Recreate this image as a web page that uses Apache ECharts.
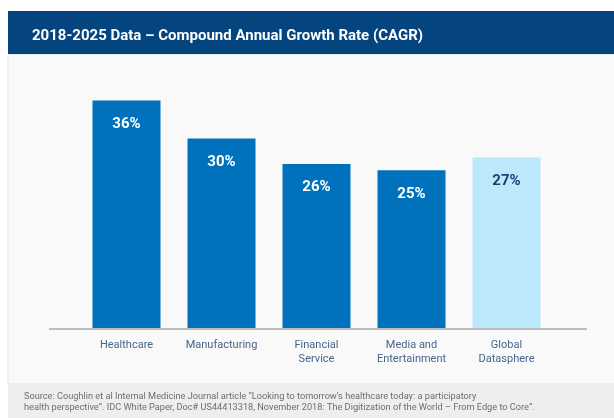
<!DOCTYPE html>
<html>
<head>
    <meta charset="UTF-8">
    <title>CAGR 2018-2025</title>
    <script src="https://cdn.jsdelivr.net/npm/echarts@6/dist/echarts.min.js"></script>
    <style>
        html, body { margin: 0; padding: 0; background: #ffffff; }
    </style>
</head>
<body>
    <div id="main" style="width: 614px; height: 418px;"></div>

    <script>
        // chart data
        var categories = ['Healthcare', 'Manufacturing', 'Financial\nService', 'Media and\nEntertainment', 'Global\nDatasphere'];
        var cagrValues = [36, 30, 26, 25, 27];
        var highlightIndex = 4; // Global Datasphere drawn in light blue

        var titleText = '2018-2025 Data \u2013 Compound Annual Growth Rate (CAGR)';
        var sourceText = 'Source: Coughlin et al Internal Medicine Journal article \u201cLooking to tomorrow\u2019s healthcare today: a participatory\n' +
            'health perspective\u201d. IDC White Paper, Doc# US44413318, November 2018: The Digitization of the World \u2013 From Edge to Core\u201d.';

        var myChart = echarts.init(document.getElementById('main'));

        var barData = cagrValues.map(function (v, i) {
            if (i === highlightIndex) {
                return {
                    value: v,
                    itemStyle: { color: '#bbe9fb' },
                    label: { color: '#1c3f74' }
                };
            }
            return v;
        });

        var option = {
            backgroundColor: '#ffffff',
            animation: false,
            graphic: [
                // chart panel
                {
                    type: 'rect', z: -10,
                    shape: { x: 8, y: 54, width: 620, height: 330 },
                    style: { fill: '#f9f9fa', stroke: '#e4e4e6', lineWidth: 1 }
                },
                // header band
                {
                    type: 'rect', z: -9,
                    shape: { x: 8, y: 11, width: 606, height: 43 },
                    style: { fill: '#04457f' }
                },
                // footer band
                {
                    type: 'rect', z: -9,
                    shape: { x: 8, y: 383, width: 606, height: 35 },
                    style: { fill: '#eeeeee' }
                },
                // baseline
                {
                    type: 'line', z: 5,
                    shape: { x1: 49, y1: 329, x2: 587, y2: 329 },
                    style: { stroke: '#bdbdbd', lineWidth: 2 }
                }
            ],
            title: [
                {
                    text: titleText,
                    left: 27,
                    top: 24,
                    textStyle: {
                        color: '#ffffff',
                        fontFamily: 'Roboto',
                        fontWeight: 'bold',
                        fontSize: 15
                    }
                },
                {
                    text: sourceText,
                    left: 24,
                    top: 391,
                    padding: 0,
                    textStyle: {
                        color: '#6e6e6e',
                        fontFamily: 'Roboto',
                        fontWeight: 'normal',
                        fontSize: 9.2,
                        lineHeight: 11
                    }
                }
            ],
            grid: {
                left: 79,
                width: 475,
                top: 75,
                bottom: 89,
                containLabel: false
            },
            xAxis: {
                type: 'category',
                data: categories,
                axisLine: { show: false },
                axisTick: { show: false },
                axisLabel: {
                    color: '#46668a',
                    fontFamily: 'Roboto',
                    fontSize: 11,
                    lineHeight: 14,
                    margin: 9,
                    interval: 0
                }
            },
            yAxis: {
                type: 'value',
                min: 0,
                max: 40,
                show: false,
                splitLine: { show: false }
            },
            series: [
                {
                    type: 'bar',
                    data: barData,
                    barWidth: 68,
                    itemStyle: { color: '#0071bc' },
                    label: {
                        show: true,
                        position: 'insideTop',
                        distance: 16,
                        formatter: '{c}%',
                        color: '#ffffff',
                        fontFamily: 'Roboto',
                        fontWeight: 'bold',
                        fontSize: 15
                    }
                }
            ]
        };

        myChart.setOption(option);
    </script>
</body>
</html>
